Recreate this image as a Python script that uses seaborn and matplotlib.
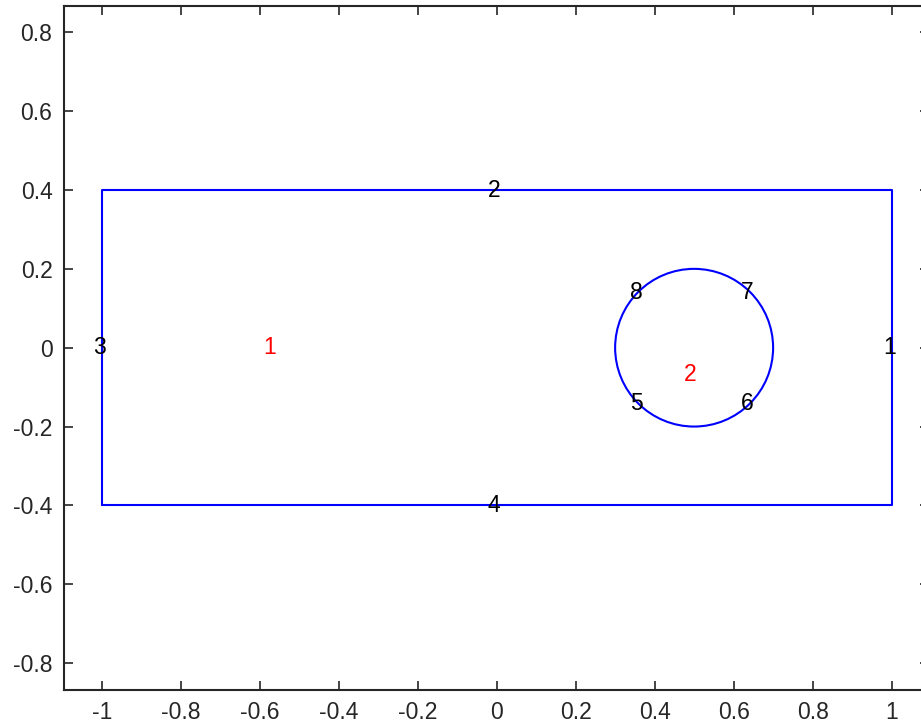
import matplotlib
matplotlib.use("Agg")
import matplotlib.pyplot as plt
import seaborn as sns
import pandas as pd
from matplotlib.patches import Circle

# Geometry data
rect_x = [-1, 1, 1, -1, -1]
rect_y = [-0.4, -0.4, 0.4, 0.4, -0.4]
circle_center = (0.5, 0.0)
circle_radius = 0.2

edge_labels = ["1", "2", "3", "4", "5", "6", "7", "8"]
edge_x = [1.0, 0.0, -1.0, 0.0, 0.359, 0.641, 0.641, 0.359]
edge_y = [0.0, 0.4, 0.0, -0.4, -0.141, -0.141, 0.141, 0.141]

face_labels = ["1", "2"]
face_x = [-0.575, 0.49]
face_y = [0.0, -0.068]

xticks = [-1, -0.8, -0.6, -0.4, -0.2, 0, 0.2, 0.4, 0.6, 0.8, 1]
xtick_labels = ["-1", "-0.8", "-0.6", "-0.4", "-0.2", "0", "0.2", "0.4", "0.6", "0.8", "1"]
yticks = [-0.8, -0.6, -0.4, -0.2, 0, 0.2, 0.4, 0.6, 0.8]
ytick_labels = ["-0.8", "-0.6", "-0.4", "-0.2", "0", "0.2", "0.4", "0.6", "0.8"]

sns.set_theme(style="white")
plt.rcParams['font.family'] = ['Liberation Sans', 'DejaVu Sans']

fig = plt.figure(figsize=(9.21, 7.27), dpi=100)
ax = fig.add_axes([63.5 / 921, 36.7 / 727, (929 - 63.5) / 921, (690.3 - 5.5) / 727])

df = pd.DataFrame({"x": rect_x, "y": rect_y, "order": range(len(rect_x))})
sns.lineplot(data=df, x="x", y="y", sort=False, estimator=None, color="#0000ff",
             linewidth=1.5, ax=ax)
ax.add_patch(Circle(circle_center, circle_radius, fill=False, edgecolor="#0000ff", linewidth=1.5))

for lab, x, y in zip(edge_labels, edge_x, edge_y):
    ax.text(x - 0.006, y, lab, ha="center", va="center", fontsize=16.5, color="black")
for lab, x, y in zip(face_labels, face_x, face_y):
    ax.text(x, y, lab, ha="center", va="center", fontsize=16.5, color="red")

ax.set_xlim(-1.0967, 1.0947)
ax.set_ylim(-0.869, 0.868)
ax.set_xticks(xticks)
ax.set_xticklabels(xtick_labels)
ax.set_yticks(yticks)
ax.set_yticklabels(ytick_labels)
ax.set_xlabel("")
ax.set_ylabel("")
ax.tick_params(direction="in", length=6.5, width=1.2, color="#262626", labelsize=16.5,
               top=True, right=True, bottom=True, left=True, labelcolor="#262626", pad=8)
for s in ax.spines.values():
    s.set_visible(True)
    s.set_color("#262626")
    s.set_linewidth(1.5)
ax.grid(False)

fig.savefig("out.png", dpi=100)
